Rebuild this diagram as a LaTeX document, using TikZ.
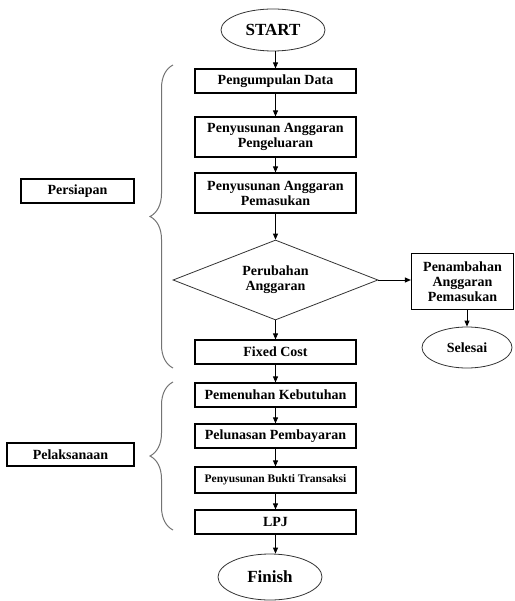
\documentclass[tikz,border=0pt]{standalone}
\usepackage{fontspec}
\setmainfont{Liberation Serif}
\usetikzlibrary{shapes.geometric,arrows.meta,decorations.pathreplacing}
\begin{document}
\begin{tikzpicture}[x=1pt,y=1pt]
\tikzstyle{every node}+=[inner sep=0pt,align=center,font=\bfseries\fontsize{14}{15}\selectfont]
\tikzstyle{kotak}=[draw=black,line width=1.2pt,minimum width=161,minimum height=24]
\tikzstyle{oval}=[draw=black!80,ellipse,line width=0.8pt]
\tikzstyle{panah}=[-{Triangle[length=6pt,width=5pt]},line width=0.9pt]
\tikzstyle{kurung}=[draw=black!55,line width=1pt,decorate,decoration={brace,amplitude=23pt}]
\useasboundingbox (0,0) rectangle (514,-601);
% alur utama
\node [oval,minimum width=104,minimum height=42,font=\bfseries\fontsize{17}{19}\selectfont] (start) at (273,-30) {START};
\node [kotak] (data) at (275.5,-81) {Pengumpulan Data};
\node [kotak,minimum height=40] (keluar) at (275.5,-137) {Penyusunan Anggaran\\Pengeluaran};
\node [kotak,minimum height=40] (masuk) at (275.5,-193) {Penyusunan Anggaran\\Pemasukan};
\node [diamond,draw=black!80,line width=0.8pt,aspect=2.5,minimum width=205,minimum height=80] (ubah) at (275.5,-280) {Perubahan\\Anggaran};
\node [kotak] (fixed) at (275.5,-352) {Fixed Cost};
\node [kotak,minimum width=102,minimum height=56] (tambah) at (462.5,-281.5) {Penambahan\\Anggaran\\Pemasukan};
\node [oval,minimum width=90,minimum height=41] (selesai) at (467,-347.5) {Selesai};
\node [kotak] (penuhi) at (275.5,-395) {Pemenuhan Kebutuhan};
\node [kotak] (lunas) at (275.5,-436) {Pelunasan Pembayaran};
\node [kotak,minimum height=26,font=\bfseries\fontsize{11.5}{13}\selectfont] (bukti) at (275.5,-480) {Penyusunan Bukti Transaksi};
\node [kotak] (lpj) at (275.5,-522) {LPJ};
\node [oval,minimum width=104,minimum height=46,font=\bfseries\fontsize{17}{19}\selectfont] (finish) at (270,-577) {Finish};
% tahap
\node [kotak,minimum width=113] (persiapan) at (77.5,-191) {Persiapan};
\node [kotak,minimum width=127,minimum height=23] (pelaksanaan) at (70.5,-454.5) {Pelaksanaan};
\draw [kurung] (173,-368) -- (173,-65);
\draw [kurung] (173,-530) -- (173,-382);
% panah
\draw [panah] (start.south -| data.north) -- (data.north);
\draw [panah] (data) -- (keluar);
\draw [panah] (keluar) -- (masuk);
\draw [panah] (masuk) -- (ubah);
\draw [panah] (ubah) -- (fixed);
\draw [panah] (ubah.east) -- (ubah.east -| tambah.west);
\draw [panah] (tambah.south -| selesai.north) -- (selesai.north);
\draw [panah] (fixed) -- (penuhi);
\draw [panah] (penuhi) -- (lunas);
\draw [panah] (lunas) -- (bukti);
\draw [panah] (bukti) -- (lpj);
\draw [panah] (lpj.south) -- (lpj.south |- finish.north);
\end{tikzpicture}
\end{document}
